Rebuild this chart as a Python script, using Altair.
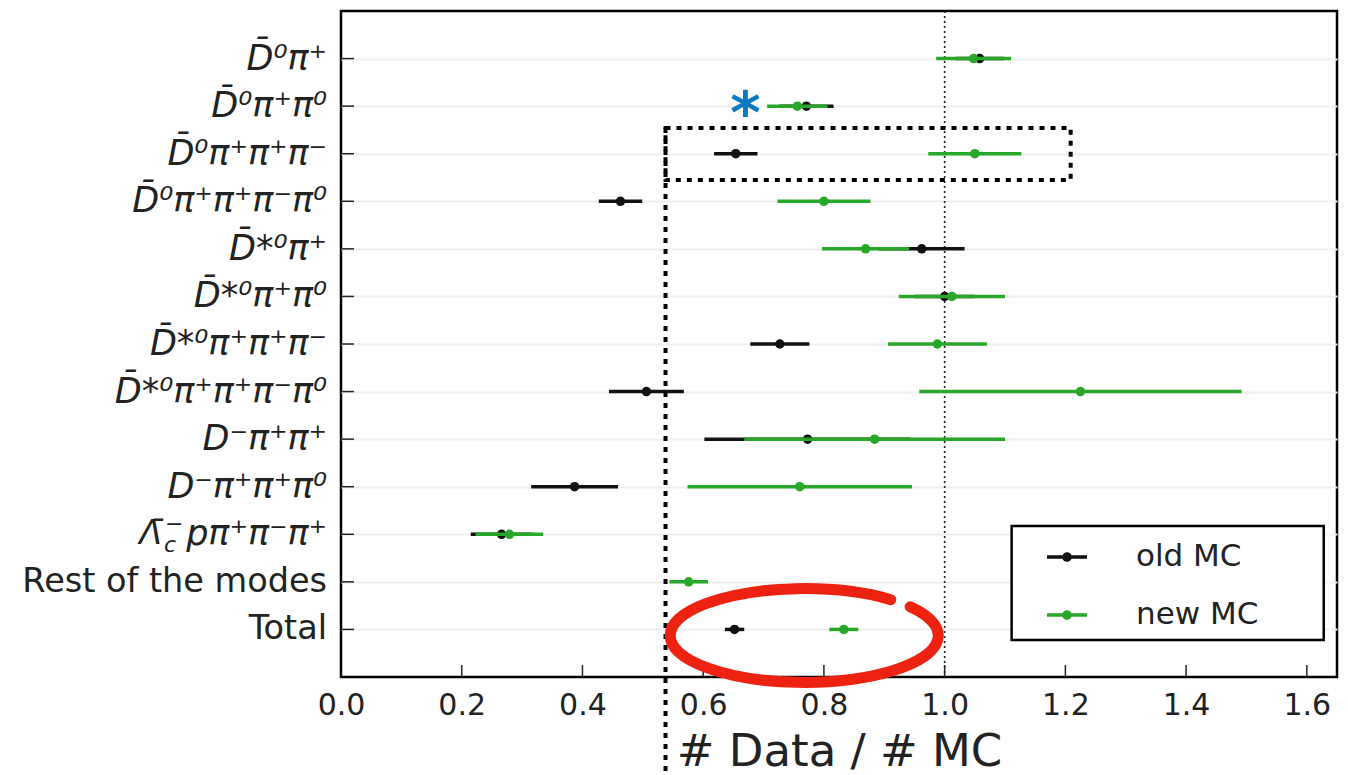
import altair as alt
import pandas as pd

# ---------------- data ----------------
rows = list(range(13))
labels = [
    "D̄⁰π⁺",
    "D̄⁰π⁺π⁰",
    "D̄⁰π⁺π⁺π⁻",
    "D̄⁰π⁺π⁺π⁻π⁰",
    "D̄*⁰π⁺",
    "D̄*⁰π⁺π⁰",
    "D̄*⁰π⁺π⁺π⁻",
    "D̄*⁰π⁺π⁺π⁻π⁰",
    "D⁻π⁺π⁺",
    "D⁻π⁺π⁺π⁰",
    "pπ⁺π⁻π⁺",
    "Rest of the modes",
    "Total",
]
label_style = ["italic"] * 11 + ["normal", "normal"]

old_val = [1.058, 0.771, 0.654, 0.463, 0.962, 1.000, 0.727, 0.506, 0.773, 0.387, 0.266, None, 0.652]
old_err = [0.040, 0.045, 0.036, 0.036, 0.071, 0.050, 0.049, 0.062, 0.171, 0.072, 0.051, None, 0.016]
new_val = [1.048, 0.756, 1.050, 0.800, 0.869, 1.012, 0.988, 1.225, 0.884, 0.760, 0.279, 0.576, 0.833]
new_err = [0.062, 0.050, 0.077, 0.077, 0.072, 0.088, 0.082, 0.267, 0.216, 0.186, 0.056, 0.032, 0.024]

series_names = ["old MC", "new MC"]
series_colors = ["#111111", "#28a828"]
x_ticks = [0.0, 0.2, 0.4, 0.6, 0.8, 1.0, 1.2, 1.4, 1.6]

# annotation / legend-frame positions (data coordinates)
box_x = [0.5376, 1.2088]
box_y = [1.46, 2.553]
star_pos = (0.670, 1.0)
ellipse_pos = (0.768, 12.13)
legend_frame_x = [1.111, 1.628]
legend_frame_y = [9.826, 12.222]

# ---------------- tables ----------------
recs = []
for name, col, vals, errs in [("old MC", series_colors[0], old_val, old_err),
                              ("new MC", series_colors[1], new_val, new_err)]:
    for r, v, e in zip(rows, vals, errs):
        if v is None:
            continue
        recs.append({"row": r, "series": name, "col": col, "val": v,
                     "lo": v - e, "hi": v + e})
df = pd.DataFrame(recs)
lab_df = pd.DataFrame({"row": rows, "text": labels, "style": label_style})
tick_df = pd.DataFrame({"row": rows})
xt_df = pd.DataFrame({"val": x_ticks[1:]})

W, H = 996, 666
xscale = alt.Scale(domain=[0, 1.65], nice=False, zero=False)
yscale = alt.Scale(domain=[-1, 13], reverse=True, nice=False, zero=False)
FONT = "DejaVu Sans"
TXT = "#222222"

xaxis = alt.Axis(values=x_ticks, format=".1f", labelFontSize=30, labelFont=FONT,
                 labelColor=TXT, ticks=False, domain=False, grid=False,
                 labelPadding=13, title="# Data / # MC", titleFontSize=45,
                 titleFont=FONT, titleFontWeight="normal", titleColor=TXT,
                 titlePadding=9, labelFlush=False)
yaxis = alt.Axis(values=rows, labels=False, ticks=False, domain=False, grid=True,
                 gridColor="#efefef", gridWidth=2, title=None)


def X(field):
    return alt.X(field, scale=xscale, axis=xaxis)


def Y(field):
    return alt.Y(field, scale=yscale, axis=yaxis)


base = alt.Chart(df)

# inward ticks
yticks = alt.Chart(tick_df).mark_rule(color=TXT, strokeWidth=1.5).encode(
    y=Y("row:Q"), x=alt.value(0), x2=alt.value(13),
)
xticks = alt.Chart(xt_df).mark_rule(color=TXT, strokeWidth=1.5).encode(
    x=X("val:Q"), y=alt.value(H), y2=alt.value(H - 12),
)

# reference line at 1.0
one_line = alt.Chart(pd.DataFrame({"val": [1.0]})).mark_rule(
    color=TXT, strokeWidth=1.6, strokeDash=[2, 3]).encode(x=X("val:Q"))

PATH = ("M-1,-0.085L1,-0.085L1,0.085L-1,0.085Z "
        "M-0.24,0A0.24,0.24 0 1,1 0.24,0A0.24,0.24 0 1,1 -0.24,0Z")

layers = [yticks, xticks, one_line]
cscale = alt.Scale(domain=series_names, range=series_colors)
legend = alt.Legend(title=None, orient="none", legendX=670, legendY=515,
                    direction="vertical", symbolType=PATH, symbolSize=1600,
                    symbolStrokeWidth=0, symbolOpacity=1, labelFontSize=31,
                    labelFont=FONT, labelColor=TXT,
                    padding=11, rowPadding=23,
                    symbolOffset=25, labelOffset=49, labelLimit=400)
for i, name in enumerate(series_names):
    sub = base.transform_filter(alt.datum.series == name)
    bars = sub.mark_rule(strokeWidth=3.5).encode(
        x=X("lo:Q"), x2="hi:Q", y=Y("row:Q"),
        color=alt.Color("col:N", scale=None),
    )
    dots = sub.mark_circle(size=90, opacity=1).encode(
        x=X("val:Q"), y=Y("row:Q"),
        color=alt.Color("series:N", scale=cscale, legend=legend),
    )
    layers += [bars, dots]

# y labels as text
lab_base = alt.Chart(lab_df)
lab_it = lab_base.transform_filter(alt.datum.style == "italic").mark_text(
    align="right", baseline="middle", fontSize=35, font=FONT, fontStyle="italic",
    color=TXT).encode(y=Y("row:Q"), x=alt.value(-14), text="text:N")
lab_up = lab_base.transform_filter(alt.datum.style == "normal").mark_text(
    align="right", baseline="middle", fontSize=33.5, font=FONT,
    color=TXT).encode(y=Y("row:Q"), x=alt.value(-14), text="text:N")

lam_df = pd.DataFrame({"row": [10]})
lam = alt.Chart(lam_df).mark_text(
    align="right", baseline="middle", fontSize=33, font=FONT, fontStyle="italic",
    color=TXT, text="Λ̄").encode(y=Y("row:Q"), x=alt.value(-179))
lam_c = alt.Chart(lam_df).mark_text(
    align="left", baseline="middle", fontSize=22, font=FONT, fontStyle="italic",
    color=TXT, text="c", dy=11).encode(y=Y("row:Q"), x=alt.value(-177))
lam_m = alt.Chart(lam_df).mark_text(
    align="left", baseline="middle", fontSize=22, font=FONT,
    color=TXT, text="−", dy=-10).encode(y=Y("row:Q"), x=alt.value(-176))

# legend frame
frame = alt.Chart(pd.DataFrame({"x1": [legend_frame_x[0]], "x2": [legend_frame_x[1]],
                                "y1": [legend_frame_y[0]], "y2": [legend_frame_y[1]]})).mark_rect(
    fill="white", fillOpacity=0.85, stroke="black", strokeWidth=2.5).encode(
    x=X("x1:Q"), x2="x2:Q", y=Y("y1:Q"), y2="y2:Q")

# annotations
box = alt.Chart(pd.DataFrame({"x1": [box_x[0]], "x2": [box_x[1]],
                              "y1": [box_y[0]], "y2": [box_y[1]]})).mark_rect(
    fillOpacity=0, stroke="black", strokeWidth=4, strokeDash=[5, 6]).encode(
    x=X("x1:Q"), x2="x2:Q", y=Y("y1:Q"), y2="y2:Q")
vline = alt.Chart(pd.DataFrame({"x": [box_x[0]], "y": [box_y[0]]})).mark_rule(
    color="black", strokeWidth=4, strokeDash=[5, 6]).encode(
    x=X("x:Q"), y=Y("y:Q"), y2=alt.value(764))
star = alt.Chart(pd.DataFrame({"x": [star_pos[0]], "y": [star_pos[1]]})).mark_text(
    text="*", fontSize=58, font=FONT, fontWeight="bold", color="#0a79c1",
    align="center", baseline="alphabetic", dy=27).encode(x=X("x:Q"), y=Y("y:Q"))
ELL = "M0.788,-0.215A1,0.35 0 1,1 0.643,-0.268"
ellipse = alt.Chart(pd.DataFrame({"x": [ellipse_pos[0]], "y": [ellipse_pos[1]]})).mark_point(
    shape=ELL, size=71824, filled=False, stroke="#ee2211", strokeWidth=11,
    strokeCap="round", opacity=1).encode(x=X("x:Q"), y=Y("y:Q"))

layers += [frame, lab_it, lab_up, lam, lam_c, lam_m, box, vline, star, ellipse]

chart = alt.layer(*layers).properties(
    width=W, height=H,
    autosize=alt.AutoSizeParams(type="none"),
    padding={"left": 341, "top": 11, "right": 11, "bottom": 98},
    background="white",
).configure_view(stroke="black", strokeWidth=2.5)

chart.save("out.html", embed_options={"renderer": "svg", "actions": False})
